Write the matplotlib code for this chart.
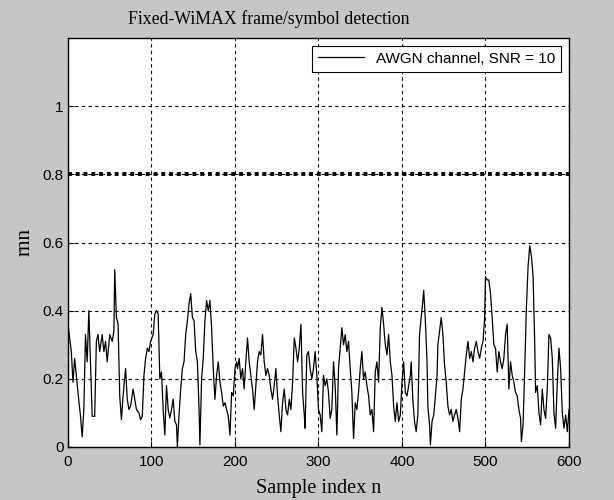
import numpy as np
import matplotlib
matplotlib.use('Agg')
import matplotlib.pyplot as plt

# 读取的采样点 (样本序号, rnn 值)
n_idx = [0, 2, 4, 6, 8, 10, 12, 15, 17, 19, 21, 23, 25, 27, 29, 32, 34, 36, 38, 41,
         43, 45, 47, 50, 53, 55, 56, 58, 60, 62, 64, 66, 69, 71, 73, 75, 78, 80, 82, 85,
         87, 89, 91, 93, 95, 97, 99, 102, 104, 106, 108, 110, 112, 114, 116, 118, 120, 122, 124, 126,
         128, 130, 131, 133, 135, 137, 139, 141, 143, 145, 147, 149, 151, 153, 155, 157, 158, 160, 162, 164,
         166, 168, 170, 172, 174, 176, 178, 180, 182, 184, 186, 188, 190, 192, 194, 196, 198, 200, 202, 203,
         205, 207, 209, 211, 213, 215, 217, 219, 221, 223, 225, 227, 229, 231, 233, 235, 237, 239, 241, 243,
         245, 247, 249, 251, 253, 255, 257, 259, 261, 263, 265, 267, 269, 271, 273, 275, 277, 279, 281, 283,
         284, 286, 288, 290, 292, 294, 296, 298, 300, 302, 304, 306, 308, 310, 312, 314, 316, 318, 320, 322,
         324, 326, 328, 330, 332, 334, 336, 338, 340, 342, 344, 346, 348, 350, 352, 354, 356, 358, 360, 362,
         364, 366, 368, 370, 372, 374, 376, 378, 380, 382, 384, 386, 388, 390, 392, 394, 396, 398, 400, 402,
         404, 406, 408, 410, 411, 413, 415, 417, 419, 421, 423, 425, 426, 428, 430, 431, 433, 434, 436, 438,
         440, 442, 443, 445, 447, 449, 451, 453, 455, 457, 459, 461, 463, 465, 467, 469, 471, 473, 475, 477,
         479, 481, 483, 485, 487, 489, 491, 493, 495, 497, 499, 500, 502, 504, 506, 508, 510, 512, 514, 516,
         518, 520, 522, 524, 526, 528, 530, 532, 534, 536, 538, 540, 542, 543, 545, 547, 549, 551, 553, 555,
         557, 559, 560, 562, 564, 566, 568, 570, 572, 574, 576, 578, 580, 582, 584, 586, 588, 590, 592, 594,
         596, 598, 600]
rnn = [0.36, 0.32, 0.28, 0.19, 0.26, 0.21, 0.16, 0.09, 0.03, 0.11, 0.33, 0.25, 0.40, 0.24, 0.09, 0.09, 0.31, 0.33, 0.28, 0.33,
       0.28, 0.31, 0.25, 0.33, 0.31, 0.34, 0.52, 0.38, 0.36, 0.15, 0.08, 0.15, 0.23, 0.14, 0.11, 0.12, 0.17, 0.14, 0.11, 0.10,
       0.08, 0.09, 0.21, 0.26, 0.29, 0.28, 0.31, 0.33, 0.39, 0.40, 0.39, 0.20, 0.22, 0.11, 0.035, 0.18, 0.11, 0.085, 0.11, 0.14,
       0.075, 0.065, 0.0, 0.094, 0.17, 0.23, 0.25, 0.33, 0.37, 0.42, 0.45, 0.38, 0.37, 0.28, 0.25, 0.11, 0.006, 0.20, 0.26, 0.37,
       0.43, 0.40, 0.43, 0.35, 0.23, 0.14, 0.21, 0.25, 0.19, 0.16, 0.12, 0.13, 0.11, 0.09, 0.035, 0.16, 0.15, 0.23, 0.25, 0.23,
       0.26, 0.20, 0.23, 0.17, 0.25, 0.32, 0.25, 0.21, 0.17, 0.11, 0.18, 0.25, 0.28, 0.27, 0.33, 0.25, 0.21, 0.23, 0.21, 0.17,
       0.14, 0.18, 0.23, 0.15, 0.094, 0.045, 0.13, 0.17, 0.11, 0.094, 0.14, 0.11, 0.19, 0.32, 0.29, 0.25, 0.29, 0.36, 0.16, 0.094,
       0.055, 0.27, 0.28, 0.23, 0.20, 0.23, 0.28, 0.21, 0.11, 0.094, 0.045, 0.21, 0.18, 0.20, 0.16, 0.084, 0.11, 0.25, 0.18, 0.035,
       0.23, 0.29, 0.35, 0.30, 0.33, 0.28, 0.31, 0.23, 0.16, 0.025, 0.13, 0.11, 0.16, 0.23, 0.28, 0.20, 0.22, 0.18, 0.15, 0.094,
       0.11, 0.045, 0.22, 0.25, 0.19, 0.35, 0.41, 0.36, 0.30, 0.27, 0.33, 0.25, 0.21, 0.12, 0.075, 0.13, 0.075, 0.094, 0.19, 0.25,
       0.16, 0.15, 0.18, 0.21, 0.25, 0.14, 0.075, 0.045, 0.094, 0.33, 0.38, 0.43, 0.46, 0.37, 0.25, 0.12, 0.065, 0.006, 0.075, 0.094,
       0.15, 0.21, 0.30, 0.34, 0.38, 0.33, 0.24, 0.19, 0.12, 0.094, 0.11, 0.075, 0.094, 0.11, 0.084, 0.045, 0.14, 0.17, 0.22, 0.27,
       0.31, 0.26, 0.28, 0.25, 0.29, 0.31, 0.28, 0.26, 0.29, 0.31, 0.38, 0.50, 0.49, 0.49, 0.45, 0.38, 0.30, 0.29, 0.22, 0.28,
       0.25, 0.23, 0.26, 0.33, 0.36, 0.17, 0.25, 0.21, 0.19, 0.16, 0.15, 0.11, 0.084, 0.016, 0.065, 0.23, 0.41, 0.53, 0.59, 0.56,
       0.50, 0.30, 0.16, 0.18, 0.10, 0.065, 0.17, 0.11, 0.084, 0.17, 0.33, 0.32, 0.26, 0.10, 0.055, 0.19, 0.29, 0.23, 0.10, 0.055,
       0.094, 0.045, 0.11]
threshold = 0.8
x_ticks = [0, 100, 200, 300, 400, 500, 600]
y_ticks = [0, 0.2, 0.4, 0.6, 0.8, 1.0]
y_tick_labels = ['0', '0.2', '0.4', '0.6', '0.8', '1']

fig = plt.figure(figsize=(6.14, 5.0), dpi=100, facecolor='#c6c6c6')
ax = fig.add_axes([0.1107, 0.106, 0.816, 0.818])
ax.set_facecolor('white')

ax.plot(n_idx, rnn, color='black', linewidth=0.9, label='AWGN channel, SNR = 10')
ax.axhline(threshold, color='black', linestyle=(0, (1, 1)), linewidth=2.8)

ax.set_xlim(0, 600)
ax.set_ylim(0, 1.2)
ax.set_xticks(x_ticks)
ax.set_yticks(y_ticks)
ax.set_yticklabels(y_tick_labels)
ax.tick_params(direction='in', length=4, labelsize=11, colors='black')
ax.tick_params(axis='x', pad=6)
ax.tick_params(axis='y', pad=3)
for lab in ax.get_xticklabels() + ax.get_yticklabels():
    lab.set_family('Liberation Sans')

ax.grid(True, color='black', linestyle=(0, (3, 3)), linewidth=0.8)
for sp in ax.spines.values():
    sp.set_linewidth(1.0)

# 标题在原图中偏左
ax.set_title('Fixed-WiMAX frame/symbol detection', family='Liberation Serif',
             fontsize=12.8, x=0.401, pad=10)
ax.set_xlabel('Sample index n', family='Liberation Serif', fontsize=14.5, labelpad=7)
ax.set_ylabel('rnn', family='Liberation Serif', fontsize=15, labelpad=6)

leg = ax.legend(loc='upper right', prop={'family': 'Liberation Sans', 'size': 11},
                fancybox=False, framealpha=1, edgecolor='black', handlelength=3.0,
                borderaxespad=0.5, borderpad=0.4)
leg.get_frame().set_linewidth(0.8)

fig.savefig('out.png', dpi=100, facecolor=fig.get_facecolor())
